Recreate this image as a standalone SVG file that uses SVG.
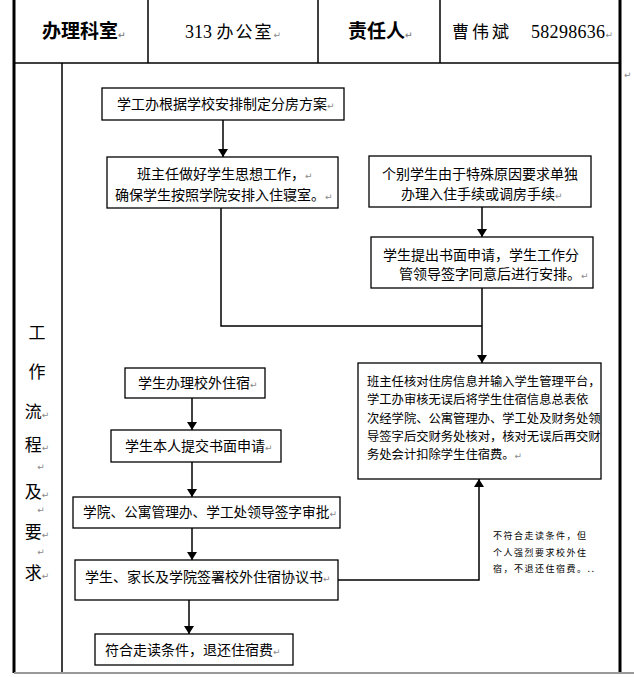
<svg xmlns="http://www.w3.org/2000/svg" width="634" height="677" viewBox="0 0 634 677">
<style>
.t{font-family:"Noto Sans CJK SC","Noto Sans",sans-serif;fill:#000}
.b{font-size:14px}
.s{font-size:12.3px}
.pm{font-family:"DejaVu Sans",sans-serif;fill:#888;font-size:9px}
.box{fill:#fff;stroke:#000;stroke-width:1.3}
.ln{fill:none;stroke:#000;stroke-width:1.5}
.tb{stroke:#000;stroke-width:1.5;fill:none}
</style>
<defs>
<marker id="ah" viewBox="0 0 8 10" refX="8" refY="5" markerWidth="8" markerHeight="10" markerUnits="userSpaceOnUse" orient="auto">
<path d="M0,0 L8,5 L0,10 Z" fill="#000"/>
</marker>
</defs>
<rect width="634" height="677" fill="#fff"/>
<g id="table">
<line class="tb" x1="14" y1="0" x2="14" y2="673" style="stroke-width:3"/>
<line class="tb" x1="620" y1="0" x2="620" y2="673" style="stroke-width:3"/>
<line class="tb" x1="14" y1="63" x2="620" y2="63"/>
<line class="tb" x1="148" y1="0" x2="148" y2="63"/>
<line class="tb" x1="318" y1="0" x2="318" y2="63"/>
<line class="tb" x1="440" y1="0" x2="440" y2="63"/>
<line class="tb" x1="62" y1="63" x2="62" y2="673"/>
<line x1="14" y1="673" x2="634" y2="673" stroke="#999" stroke-width="2"/>
<text class="pm" x="624" y="78">↵</text>
</g>
<g id="header">
<text class="t" x="42" y="38" style="font-size:19px;font-weight:700">办理科室<tspan class="pm">↵</tspan></text>
<text class="t" x="185" y="38" style="font-size:17px"><tspan style="font-family:'Liberation Serif',serif;font-size:18px">313 </tspan><tspan letter-spacing="2">办公室</tspan><tspan class="pm">↵</tspan></text>
<text class="t" x="348" y="38" style="font-size:19px;font-weight:700">责任人<tspan class="pm">↵</tspan></text>
<text class="t" x="452" y="38" style="font-size:17px"><tspan letter-spacing="3">曹伟斌</tspan><tspan x="531" style="font-family:'Liberation Serif',serif;font-size:18px" letter-spacing="0.3">58298636</tspan><tspan class="pm">↵</tspan></text>
</g>
<g id="side">
<text class="t" x="37" y="339" text-anchor="middle" style="font-size:17px">工</text>
<text class="t" x="37" y="378" text-anchor="middle" style="font-size:17px">作</text>
<text class="t" x="37" y="418" text-anchor="middle" style="font-size:17px">流<tspan class="pm">↵</tspan></text>
<text class="t" x="37" y="451" text-anchor="middle" style="font-size:17px">程<tspan class="pm">↵</tspan></text>
<text class="pm" x="41" y="470" text-anchor="middle">↵</text>
<text class="t" x="37" y="498" text-anchor="middle" style="font-size:17px">及<tspan class="pm">↵</tspan></text>
<text class="pm" x="41" y="513" text-anchor="middle">↵</text>
<text class="t" x="37" y="538" text-anchor="middle" style="font-size:17px">要<tspan class="pm">↵</tspan></text>
<text class="pm" x="41" y="555" text-anchor="middle">↵</text>
<text class="t" x="37" y="579" text-anchor="middle" style="font-size:17px">求<tspan class="pm">↵</tspan></text>
</g>
<g id="connectors">
<line class="ln" x1="223" y1="120" x2="223" y2="157" marker-end="url(#ah)"/>
<polyline class="ln" points="221,208 221,326 482,326"/>
<line class="ln" x1="482" y1="207" x2="482" y2="237" marker-end="url(#ah)"/>
<line class="ln" x1="482" y1="288" x2="482" y2="363" marker-end="url(#ah)"/>
<line class="ln" x1="192" y1="398" x2="192" y2="430" marker-end="url(#ah)"/>
<line class="ln" x1="192" y1="462" x2="192" y2="497" marker-end="url(#ah)"/>
<line class="ln" x1="192" y1="528" x2="192" y2="560" marker-end="url(#ah)"/>
<line class="ln" x1="189" y1="600" x2="189" y2="634" marker-end="url(#ah)"/>
<polyline class="ln" points="338,580 479,580 479,479" marker-end="url(#ah)"/>
</g>
<g id="n1">
<rect class="box" x="102" y="88" width="242" height="32"/>
<text class="t b" x="117" y="109">学工办根据学校安排制定分房方案<tspan class="pm">↵</tspan></text>
</g>
<g id="n2">
<rect class="box" x="107" y="157" width="231" height="51"/>
<text class="t b" x="137" y="179">班主任做好学生思想工作，<tspan class="pm">↵</tspan></text>
<text class="t b" x="115" y="200">确保学生按照学院安排入住寝室。<tspan class="pm">↵</tspan></text>
</g>
<g id="n3">
<rect class="box" x="369" y="156" width="222" height="51"/>
<text class="t b" x="382" y="179">个别学生由于特殊原因要求单独</text>
<text class="t b" x="401" y="199">办理入住手续或调房手续<tspan class="pm">↵</tspan></text>
</g>
<g id="n4">
<rect class="box" x="371" y="237" width="222" height="51"/>
<text class="t b" x="383" y="260">学生提出书面申请，学生工作分</text>
<text class="t b" x="399" y="279">管领导签字同意后进行安排。<tspan class="pm">↵</tspan></text>
</g>
<g id="n5">
<rect class="box" x="358" y="363" width="243" height="116"/>
<text class="t s" x="367" y="386">班主任核对住房信息并输入学生管理平台，</text>
<text class="t s" x="367" y="404">学工办审核无误后将学生住宿信息总表依</text>
<text class="t s" x="367" y="423">次经学院、公寓管理办、学工处及财务处领</text>
<text class="t s" x="367" y="441">导签字后交财务处核对，核对无误后再交财</text>
<text class="t s" x="367" y="459">务处会计扣除学生住宿费。<tspan class="pm">↵</tspan></text>
</g>
<g id="n6">
<rect class="box" x="125" y="368" width="140" height="30"/>
<text class="t b" x="138" y="388">学生办理校外住宿<tspan class="pm">↵</tspan></text>
</g>
<g id="n7">
<rect class="box" x="111" y="430" width="170" height="32"/>
<text class="t b" x="125" y="451">学生本人提交书面申请<tspan class="pm">↵</tspan></text>
</g>
<g id="n8">
<rect class="box" x="73" y="497" width="267" height="31"/>
<text class="t b" x="83" y="517" style="font-size:13.7px">学院、公寓管理办、学工处领导签字审批<tspan class="pm">↵</tspan></text>
</g>
<g id="n9">
<rect class="box" x="75" y="560" width="263" height="40"/>
<text class="t b" x="85" y="582">学生、家长及学院签署校外住宿协议书<tspan class="pm">↵</tspan></text>
</g>
<g id="n10">
<rect class="box" x="95" y="634" width="198" height="31"/>
<text class="t b" x="105" y="655">符合走读条件，退还住宿费<tspan class="pm">↵</tspan></text>
</g>
<g id="note">
<text class="t" x="493" y="539" style="font-size:9px" letter-spacing="1.5">不符合走读条件，但</text>
<text class="t" x="493" y="556" style="font-size:9px" letter-spacing="1.5">个人强烈要求校外住</text>
<text class="t" x="493" y="572" style="font-size:9px" letter-spacing="1.5">宿，不退还住宿费。..</text>
</g>
</svg>
